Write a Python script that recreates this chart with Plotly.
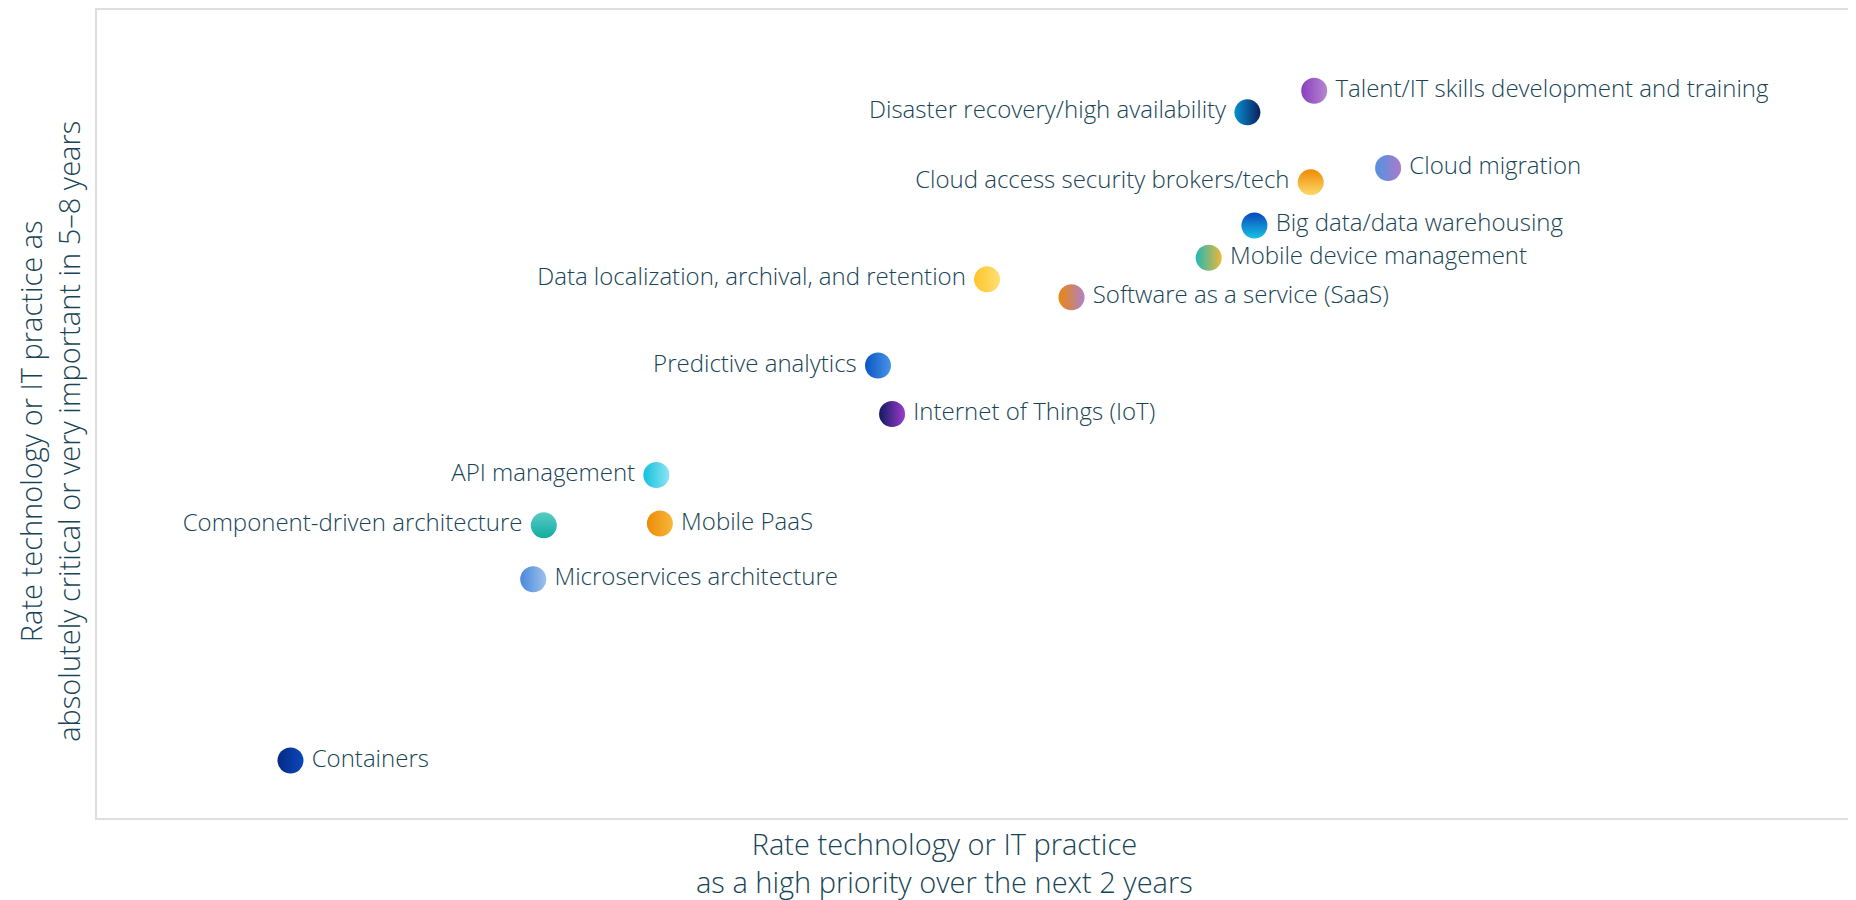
"""Bubble-style scatter of technology priorities: near-term priority (x) vs
long-term importance (y), one gradient marker and label per practice.
"""

# %%
import plotly.graph_objects as go

labels = [
    "Talent/IT skills development and training",
    "Disaster recovery/high availability",
    "Cloud migration",
    "Cloud access security brokers/tech",
    "Big data/data warehousing",
    "Mobile device management",
    "Data localization, archival, and retention",
    "Software as a service (SaaS)",
    "Predictive analytics",
    "Internet of Things (IoT)",
    "API management",
    "Component-driven architecture",
    "Mobile PaaS",
    "Microservices architecture",
    "Containers",
]
high_priority_2y = [54.6, 52.7, 56.7, 54.5, 52.9, 51.6, 45.3, 47.7, 42.2, 42.6, 35.9, 32.7, 36.0, 32.4, 25.5]
critical_5_8y = [70.5, 69.3, 66.2, 65.4, 63.0, 61.2, 60.0, 59.0, 55.2, 52.5, 49.1, 46.3, 46.4, 43.3, 33.2]
label_side = ["right", "left", "right", "left", "right", "right", "left", "right",
              "left", "right", "left", "left", "right", "right", "right"]

x_title = "Rate technology or IT practice<br>as a high priority over the next 2 years"
y_title = "Rate technology or IT practice as<br>absolutely critical or very important in 5–8 years"

# start / end colour of each marker's gradient
grad_start = ["#8b3dbf", "#0793d1", "#4f93e0", "#ef8b00", "#0a45bd", "#1fb9b8", "#fdc52b", "#e9870c",
              "#0b55c7", "#121a5e", "#13c1df", "#58ccc3", "#ee8a07", "#4a87dc", "#052a85"]
grad_end = ["#b488d1", "#0b1f5c", "#ab7bcb", "#fdd96e", "#18c3e2", "#efb734", "#fedf72", "#b080c8",
            "#4894e3", "#9c3ccf", "#8ce4f1", "#10aca2", "#f6b83c", "#9cc1ec", "#0b48b9"]
grad_type = ["horizontal", "horizontal", "horizontal", "vertical", "vertical", "horizontal",
             "horizontal", "horizontal", "horizontal", "horizontal", "horizontal", "vertical",
             "horizontal", "horizontal", "horizontal"]

text_color = "#174456"
font = "Open Sans, Noto Sans, sans-serif"

# %%
# thin space between marker and label, the default plotly offset is a bit tight
pad = "\u2009"
fig = go.Figure(
    go.Scatter(
        x=high_priority_2y,
        y=critical_5_8y,
        mode="markers+text",
        text=[f"{lbl}{pad}" if side == "left" else f"{pad}{lbl}" for lbl, side in zip(labels, label_side)],
        textposition=[f"middle {side}" for side in label_side],
        textfont=dict(family=font, size=24, color=text_color, weight=300),
        marker=dict(
            size=26,
            color=grad_start,
            gradient=dict(type=grad_type, color=grad_end),
            line=dict(width=0),
        ),
        hoverinfo="text",
        cliponaxis=False,
    )
)

axis = dict(
    showgrid=False, zeroline=False, showticklabels=False, ticks="",
    showline=True, linecolor="#dedede", linewidth=2,
)
fig.update_xaxes(range=[20, 70], mirror=True, **axis)
fig.update_yaxes(range=[30, 75], mirror=False, **axis)

anno = dict(xref="paper", yref="paper", showarrow=False,
            font=dict(family=font, size=29, color=text_color, weight=300))
fig.add_annotation(text=x_title, x=0.482, y=-0.0556, xanchor="center", yanchor="middle", **anno)
fig.add_annotation(text=y_title, x=-0.0267, y=0.478, xanchor="center", yanchor="middle",
                   textangle=-90, **anno)

# page body adds 8px offset, margins compensate so the frame lands where it should
fig.update_layout(
    width=1856,
    height=900,
    margin=dict(l=89, r=8, t=0, b=90),
    plot_bgcolor="white",
    paper_bgcolor="white",
    showlegend=False,
)

fig.write_html("out.html")
